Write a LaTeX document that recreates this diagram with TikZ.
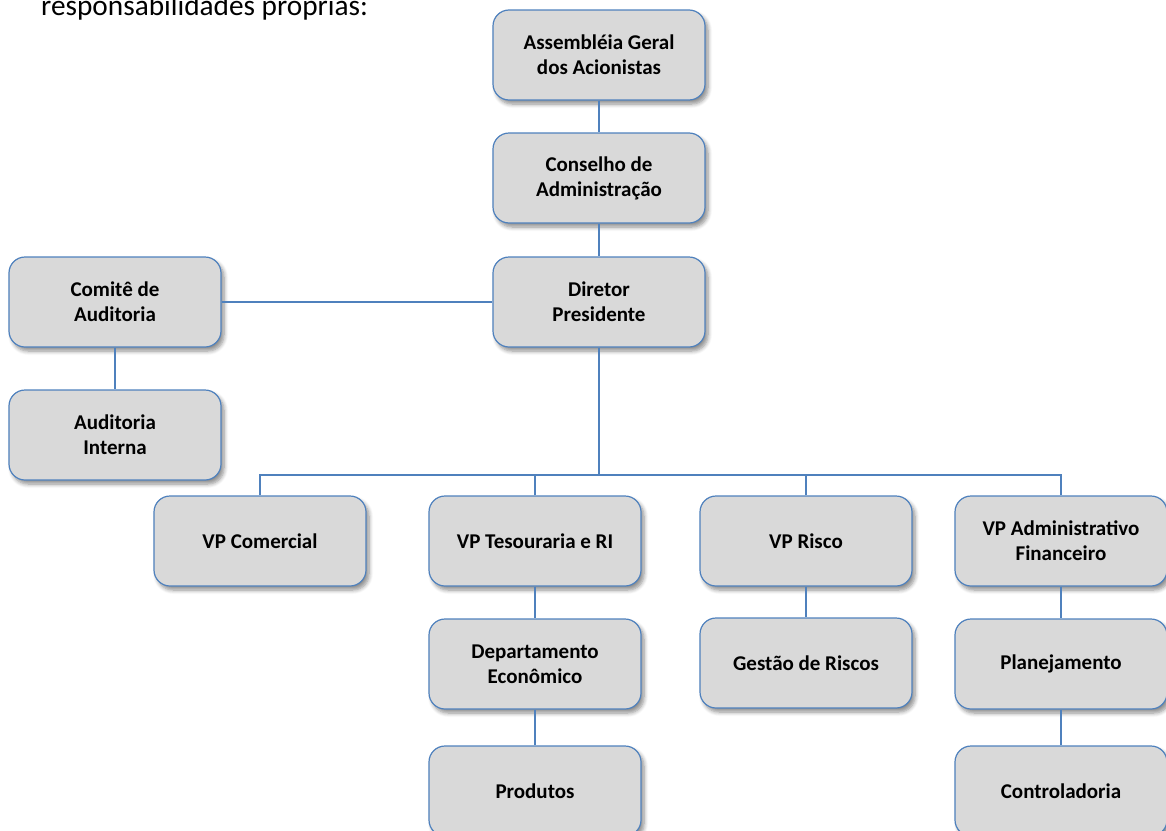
\documentclass[tikz,border=0pt]{standalone}
\usepackage{fontspec}
\setmainfont{Carlito}
\usetikzlibrary{shadows.blur}
\definecolor{boxfill}{HTML}{D9D9D9}
\definecolor{boxline}{HTML}{4F81BD}
\tikzset{
  orgbox/.style={draw=boxline, line width=1.2pt, fill=boxfill, rounded corners=16pt,
    minimum width=212pt, minimum height=90pt, align=center, inner sep=2pt,
    font=\fontsize{21}{25}\selectfont\bfseries,
    blur shadow={shadow xshift=3pt, shadow yshift=-4pt, shadow blur steps=6, shadow opacity=45, shadow blur radius=4pt}},
  link/.style={draw=boxline, line width=1.5pt}
}
\begin{document}
\begin{tikzpicture}[x=1pt,y=-1pt]
\useasboundingbox (0,0) rectangle (1166,830);
\node[anchor=base west, inner sep=0pt, font=\fontsize{29.3}{34}\selectfont] (intro) at (41,15) {responsabilidades próprias:};
\node[orgbox] (ag) at (599,55) {Assembléia Geral\\dos Acionistas};
\node[orgbox] (ca) at (599,178) {Conselho de\\Administração};
\node[orgbox] (dp) at (599,302) {Diretor\\Presidente};
\node[orgbox] (cm) at (115,302) {Comitê de\\Auditoria};
\node[orgbox] (ai) at (115,435) {Auditoria\\Interna};
\node[orgbox] (vpc) at (260,541) {VP Comercial};
\node[orgbox] (vpt) at (535,541) {VP Tesouraria e RI};
\node[orgbox] (vpr) at (806,541) {VP Risco};
\node[orgbox] (vpa) at (1061,541) {VP Administrativo\\Financeiro};
\node[orgbox] (de) at (535,664) {Departamento\\Econômico};
\node[orgbox] (pr) at (535,791) {Produtos};
\node[orgbox] (gr) at (806,663) {Gestão de Riscos};
\node[orgbox] (pl) at (1061,664) {Planejamento};
\node[orgbox] (co) at (1061,791) {Controladoria};
\coordinate (bus) at (599,475);
\path[link] (ag) -- (ca);
\path[link] (ca) -- (dp);
\path[link] (cm) -- (dp);
\path[link] (cm) -- (ai);
\path[link] (dp.south) -- (bus);
\path[link] (vpc.north) |- (bus) -| (vpa.north);
\path[link] (vpt.north) -- (vpt.north |- bus);
\path[link] (vpr.north) -- (vpr.north |- bus);
\path[link] (vpt) -- (de);
\path[link] (de) -- (pr);
\path[link] (vpr) -- (gr);
\path[link] (vpa) -- (pl);
\path[link] (pl) -- (co);
\end{tikzpicture}
\end{document}
